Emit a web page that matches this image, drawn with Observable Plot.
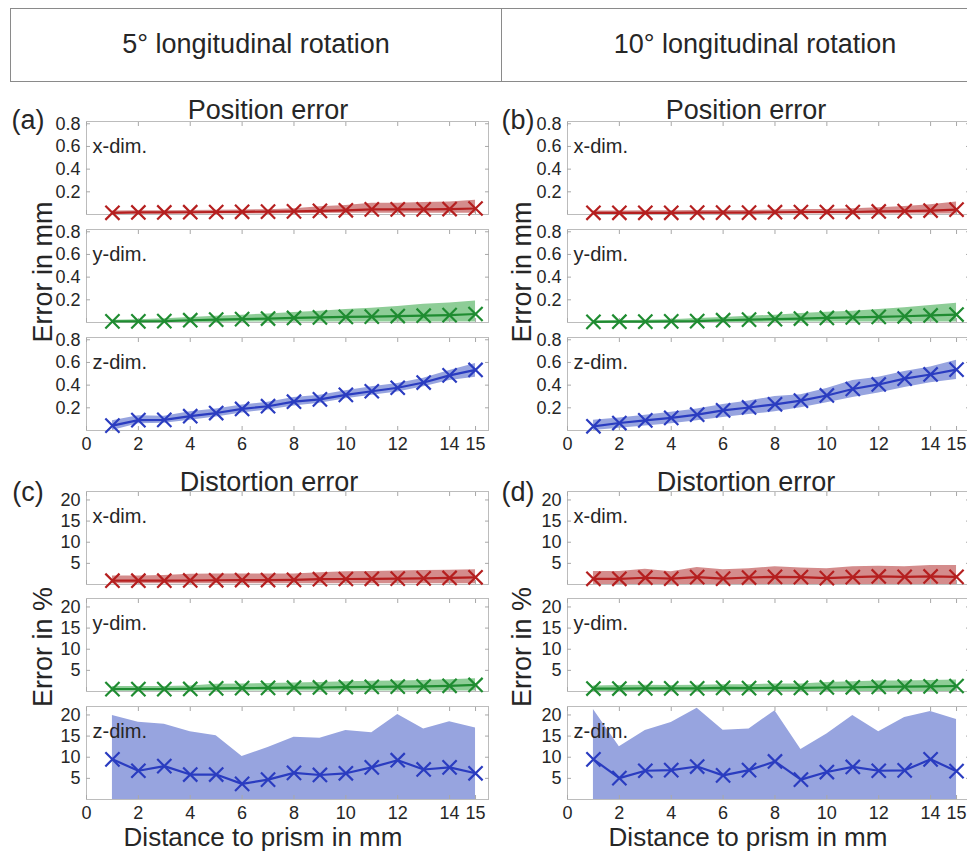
<!DOCTYPE html>
<html><head><meta charset="utf-8">
<script src="https://cdn.jsdelivr.net/npm/d3@7"></script>
<script src="https://cdn.jsdelivr.net/npm/@observablehq/plot@0.6"></script>
<style>
html,body{margin:0;padding:0;background:#fff;overflow:hidden;}
#root{position:relative;width:967px;height:851px;overflow:hidden;font-family:"Liberation Sans",Arial,sans-serif;color:#262626;}
.abs{position:absolute;white-space:nowrap;line-height:1;}
.sub{position:absolute;}
</style></head><body><div id="root"></div>
<script>
// ---------- data ----------
const distance = [1,2,3,4,5,6,7,8,9,10,11,12,13,14,15];
const xTicks = [0,2,4,6,8,10,12,14,15];
const posTicks = [0.2,0.4,0.6,0.8];
const distTicks = [5,10,15,20];
const columnTitles = ["5° longitudinal rotation", "10° longitudinal rotation"];
const panelLabels = ["(a)", "(b)", "(c)", "(d)"];
const dimLabels = ["x-dim.", "y-dim.", "z-dim."];

// (a) 5°, position error (mm)
const aX_mean = [0.015,0.018,0.018,0.02,0.022,0.024,0.025,0.028,0.032,0.037,0.045,0.045,0.045,0.048,0.053];
const aX_lo   = [0.005,0.005,0.005,0.005,0.005,0.005,0.005,0.008,0.008,0.01,0.01,0.01,0.01,0.01,0.01];
const aX_hi   = [0.03,0.033,0.033,0.035,0.038,0.04,0.042,0.05,0.068,0.08,0.1,0.1,0.105,0.11,0.125];
const aY_mean = [0.01,0.01,0.012,0.02,0.025,0.03,0.035,0.04,0.045,0.05,0.052,0.057,0.06,0.065,0.075];
const aY_lo   = [0,0,0,0,0,0.005,0.005,0.005,0.005,0.005,0.005,0.005,0.005,0.005,0.005];
const aY_hi   = [0.02,0.025,0.032,0.045,0.055,0.065,0.075,0.088,0.1,0.115,0.125,0.14,0.16,0.172,0.19];
const aZ_mean = [0.043,0.091,0.094,0.126,0.154,0.19,0.214,0.254,0.274,0.314,0.346,0.377,0.423,0.486,0.534];
const aZ_lo   = [0.0,0.06,0.065,0.09,0.12,0.155,0.18,0.215,0.24,0.28,0.31,0.34,0.385,0.44,0.47];
const aZ_hi   = [0.085,0.13,0.125,0.165,0.19,0.225,0.25,0.29,0.31,0.35,0.385,0.415,0.46,0.53,0.59];

// (b) 10°, position error (mm)
const bX_mean = [0.015,0.015,0.015,0.015,0.017,0.017,0.017,0.02,0.022,0.022,0.022,0.027,0.03,0.035,0.043];
const bX_lo   = [0.005,0.005,0.005,0.005,0.005,0.005,0.005,0.005,0.005,0.005,0.005,0.005,0.005,0.005,0.005];
const bX_hi   = [0.03,0.03,0.032,0.032,0.035,0.035,0.035,0.04,0.045,0.045,0.05,0.06,0.07,0.085,0.11];
const bY_mean = [0.006,0.007,0.008,0.01,0.012,0.02,0.025,0.03,0.035,0.04,0.045,0.05,0.055,0.062,0.07];
const bY_lo   = [0,0,0,0,0,0,0,0.005,0.005,0.005,0.005,0.005,0.005,0.005,0.005];
const bY_hi   = [0.015,0.015,0.02,0.025,0.035,0.045,0.055,0.065,0.08,0.09,0.1,0.115,0.13,0.15,0.17];
const bZ_mean = [0.037,0.066,0.089,0.111,0.14,0.177,0.203,0.231,0.263,0.309,0.366,0.406,0.457,0.494,0.537];
const bZ_lo   = [0.0,0.02,0.04,0.06,0.085,0.115,0.14,0.165,0.2,0.245,0.29,0.33,0.38,0.42,0.45];
const bZ_hi   = [0.09,0.11,0.135,0.16,0.19,0.23,0.26,0.3,0.315,0.37,0.44,0.47,0.52,0.56,0.62];

// (c) 5°, distortion error (%)
const cX_mean = [0.9,0.9,0.9,0.95,1.0,1.05,1.05,1.1,1.25,1.3,1.35,1.4,1.45,1.55,1.7];
const cX_lo   = [0.2,0.2,0.2,0.2,0.2,0.2,0.2,0.2,0.2,0.2,0.2,0.2,0.2,0.2,0.2];
const cX_hi   = [2.0,2.0,2.1,2.4,2.5,2.5,2.5,2.5,2.8,3.0,3.1,3.2,3.3,3.4,3.5];
const cY_mean = [0.55,0.55,0.55,0.6,0.75,0.8,0.85,0.9,0.95,1.05,1.1,1.15,1.2,1.35,1.55];
const cY_lo   = [0.1,0.1,0.1,0.1,0.1,0.1,0.1,0.1,0.1,0.1,0.1,0.1,0.1,0.1,0.1];
const cY_hi   = [1.2,1.2,1.2,1.3,1.7,1.8,1.9,2.0,2.1,2.3,2.4,2.5,2.6,2.8,3.0];
const cZ_mean = [9.5,6.8,7.9,5.9,5.9,3.7,4.7,6.3,5.8,6.2,7.6,9.3,7.1,7.6,6.2];
const cZ_lo   = [0,0,0,0,0,0,0,0,0,0,0,0,0,0,0];
const cZ_hi   = [19.9,18.3,17.8,16.0,15.1,10.2,12.3,14.7,14.5,16.3,15.8,20.1,16.7,18.4,16.9];

// (d) 10°, distortion error (%)
const dX_mean = [1.35,1.35,1.6,1.4,1.75,1.4,1.65,1.8,1.75,1.5,1.75,1.9,1.8,1.9,1.8];
const dX_lo   = [0,0,0,0,0,0,0,0,0,0,0,0,0,0,0];
const dX_hi   = [3.1,3.1,3.6,3.0,4.0,3.5,3.7,4.2,3.9,3.7,4.2,4.3,4.2,4.5,4.5];
const dY_mean = [0.7,0.7,0.75,0.75,0.75,0.85,0.8,0.85,0.85,0.95,1.0,1.1,1.15,1.2,1.3];
const dY_lo   = [0,0,0,0,0,0,0,0,0,0,0,0,0,0,0];
const dY_hi   = [1.3,1.4,1.5,1.4,1.5,1.6,1.6,1.8,1.8,2.1,2.3,2.5,2.5,2.6,2.7];
const dZ_mean = [9.5,5.05,6.8,6.95,7.8,5.7,6.95,9.0,4.7,6.5,7.7,6.8,6.9,9.5,6.7];
const dZ_lo   = [0,0,0,0,0,0,0,0,0,0,0,0,0,0,0];
const dZ_hi   = [21.3,12.5,16.3,18.2,21.6,16.4,16.7,21.0,11.8,15.5,19.9,16.0,19.4,20.8,18.9];

// ---------- styles ----------
const lineColors = ["#b51f1f", "#1f8c31", "#2a3cc0"];
const bandColors = ["#d48c8c", "#8ecd97", "#97a4df"];
const FONT = '"Liberation Sans", Arial, sans-serif';

const root = document.getElementById("root");

function place(text, cx, cy, size, rotate) {
  const d = document.createElement("div");
  d.className = "abs";
  d.textContent = text;
  d.style.left = cx + "px";
  d.style.top = cy + "px";
  d.style.fontSize = size + "px";
  d.style.transform = "translate(-50%,-50%)" + (rotate ? " rotate(-90deg)" : "");
  root.appendChild(d);
}

// header box
const box = document.createElement("div");
box.style.cssText = "position:absolute;left:10px;top:8px;width:1000px;height:72px;border:1px solid #8a8a8a;";
root.appendChild(box);
const divider = document.createElement("div");
divider.style.cssText = "position:absolute;left:501px;top:8px;width:1px;height:74px;background:#8a8a8a;";
root.appendChild(divider);
place(columnTitles[0], 256, 44, 27);
place(columnTitles[1], 755, 44, 27);

// subplot geometry
const frameW = 402, frameH = 93;
const colLeft = [86, 567];
const posRows = [121, 229, 337];
const distRows = [491, 598, 706];
const ML = 45, MR = 3, MT = 3;

function makeSub(left, top, dimIdx, mean, lo, hi, yDomain, yTicks, showX) {
  const data = distance.map((d, i) => ({d, m: mean[i], lo: lo[i], hi: hi[i]}));
  const MB = showX ? 34 : 3;
  const marks = [
    Plot.areaY(data, {x: "d", y1: "lo", y2: "hi", fill: bandColors[dimIdx], clip: true}),
    Plot.frame({stroke: "#bcbcbc", strokeWidth: 1}),
    Plot.axisY({ticks: yTicks, tickSize: 0, tickPadding: 6, fill: "#262626", fontSize: 18}),
    Plot.axisY({anchor: "left", ticks: yTicks, tickSize: -4, tickFormat: () => "", stroke: "#a8a8a8"}),
    Plot.axisY({anchor: "right", ticks: yTicks, tickSize: -4, tickFormat: () => "", stroke: "#a8a8a8"}),
    Plot.axisX({anchor: "top", ticks: xTicks, tickSize: -4, tickFormat: () => "", stroke: "#a8a8a8"}),
    Plot.axisX({anchor: "bottom", ticks: xTicks, tickSize: -4, tickFormat: () => "", stroke: "#a8a8a8"}),
    Plot.lineY(data, {x: "d", y: "m", stroke: lineColors[dimIdx], strokeWidth: 2.2}),
    Plot.dot(data, {x: "d", y: "m", symbol: "times", r: 6.5, stroke: lineColors[dimIdx], strokeWidth: 2.2}),
    Plot.text([dimLabels[dimIdx]], {frameAnchor: "top-left", dx: 6, dy: 17, textAnchor: "start", fontSize: 20, fill: "#262626"})
  ];
  if (showX) marks.push(Plot.axisX({anchor: "bottom", ticks: xTicks, tickSize: 0, tickPadding: 7, fill: "#262626", fontSize: 18}));
  const chart = Plot.plot({
    width: ML + frameW + MR,
    height: MT + frameH + MB,
    marginLeft: ML, marginRight: MR, marginTop: MT, marginBottom: MB,
    style: {fontFamily: FONT, fontSize: "18px", color: "#262626", background: "transparent", overflow: "visible"},
    x: {domain: [0, 15.5], label: null},
    y: {domain: yDomain, label: null},
    marks
  });
  chart.classList.add("sub");
  chart.style.left = (left - ML) + "px";
  chart.style.top = (top - MT) + "px";
  root.appendChild(chart);
}

const panels = [
  {col: 0, rows: posRows, dom: [0, 0.82], ticks: posTicks, series: [[aX_mean,aX_lo,aX_hi],[aY_mean,aY_lo,aY_hi],[aZ_mean,aZ_lo,aZ_hi]]},
  {col: 1, rows: posRows, dom: [0, 0.82], ticks: posTicks, series: [[bX_mean,bX_lo,bX_hi],[bY_mean,bY_lo,bY_hi],[bZ_mean,bZ_lo,bZ_hi]]},
  {col: 0, rows: distRows, dom: [0, 22], ticks: distTicks, series: [[cX_mean,cX_lo,cX_hi],[cY_mean,cY_lo,cY_hi],[cZ_mean,cZ_lo,cZ_hi]]},
  {col: 1, rows: distRows, dom: [0, 22], ticks: distTicks, series: [[dX_mean,dX_lo,dX_hi],[dY_mean,dY_lo,dY_hi],[dZ_mean,dZ_lo,dZ_hi]]}
];
panels.forEach(p => {
  p.series.forEach((s, k) => {
    makeSub(colLeft[p.col], p.rows[k], k, s[0], s[1], s[2], p.dom, p.ticks, k === 2);
  });
});

// titles, panel labels, axis labels
place("Position error", 268, 110, 27);
place("Position error", 746, 110, 27);
place("Distortion error", 269, 482, 27);
place("Distortion error", 746, 482, 27);
place(panelLabels[0], 28, 120, 27);
place(panelLabels[1], 518, 120, 27);
place(panelLabels[2], 28, 492, 27);
place(panelLabels[3], 518, 492, 27);
place("Error in mm", 43, 272, 27, true);
place("Error in mm", 522, 272, 27, true);
place("Error in %", 43, 647, 27, true);
place("Error in %", 522, 647, 27, true);
place("Distance to prism in mm", 263, 837, 26);
place("Distance to prism in mm", 748, 837, 26);
</script></body></html>
